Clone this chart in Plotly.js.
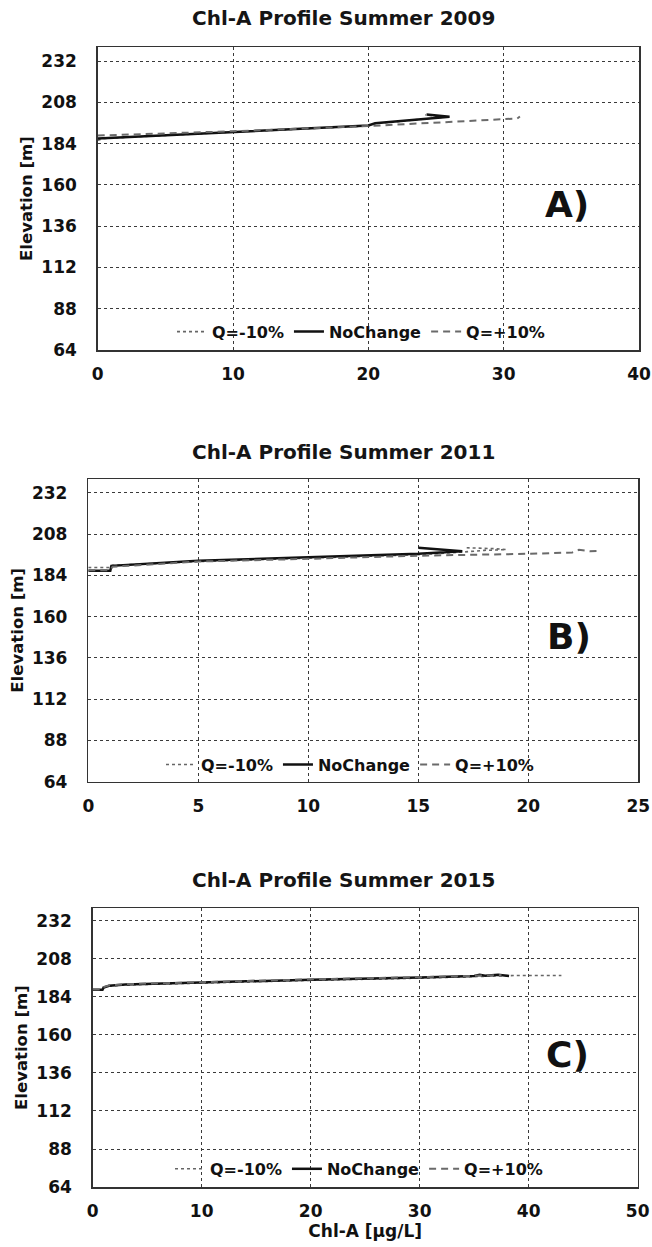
<!DOCTYPE html>
<html>
<head>
<meta charset="utf-8">
<script src="https://cdn.plot.ly/plotly-3.0.1.min.js"></script>
<style>html,body{margin:0;padding:0;background:#fff;}#chart{width:652px;height:1247px;}</style>
</head>
<body>
<div id="chart"></div>
<script>
// ---- Data ----
const seriesNames = ['Q=-10%', 'NoChange', 'Q=+10%'];
const panelTitles = ['Chl-A Profile Summer 2009', 'Chl-A Profile Summer 2011', 'Chl-A Profile Summer 2015'];
const panelLabels = ['A)', 'B)', 'C)'];
const elevTicks = [64, 88, 112, 136, 160, 184, 208, 232];

// Panel A (2009)  (below the first point the profile sits on Chl-A = 0, i.e. on the left frame)
const chlA_m10 = [0, 0.5, 10, 20, 20.5, 25.6, 24.2];
const elevA_m10 = [186, 187, 190.7, 194.3, 195.6, 199.4, 200.7];
const chlA_nc = [0, 10, 20, 20.5, 26, 24.3];
const elevA_nc = [187, 190.9, 194.5, 195.8, 199.6, 200.9];
const chlA_p10 = [0, 10, 20, 23.3, 30, 31, 31.2];
const elevA_p10 = [188.7, 191.2, 194.2, 195.5, 198, 198.6, 199.8];

// Panel B (2011)
const chlB_m10 = [0, 1, 1.1, 5, 10, 15, 17, 18, 19, 18.5, 17.2];
const elevB_m10 = [188.5, 188.5, 189.8, 192, 194, 196, 197.5, 198.5, 199, 199.5, 200];
const chlB_nc = [0, 1, 1.05, 5, 10, 15, 17, 15];
const elevB_nc = [186.6, 186.6, 189.5, 192.5, 194.5, 196.5, 198, 200];
const chlB_p10 = [0, 1, 1.1, 5, 10, 15, 20, 22, 22.3, 22.8, 23.1];
const elevB_p10 = [187, 187, 189, 192, 193.6, 195.4, 196.5, 197.3, 198.8, 198, 198.2];

// Panel C (2015)
const chlC_m10 = [0, 0.9, 1.0, 1.5, 3, 10, 20, 30, 35, 38, 38.8, 43];
const elevC_m10 = [188.3, 188.3, 189.8, 190.8, 191.6, 192.9, 194.5, 195.9, 196.8, 197.2, 197.6, 197.6];
const chlC_nc = [0, 0.9, 1.0, 1.5, 3, 10, 20, 30, 35, 35.5, 36, 37.2, 38.2];
const elevC_nc = [188.6, 188.6, 190, 191.1, 191.9, 193.2, 194.9, 196.3, 197.3, 198, 197.4, 198, 197.2];
const chlC_p10 = [0, 0.9, 1.0, 1.5, 3, 10, 20, 30, 35, 37.5];
const elevC_p10 = [188.8, 188.8, 190.2, 191.3, 192.1, 193.4, 195.1, 196.5, 197.4, 197.8];

// ---- Styles ----
const FONT = 'DejaVu Sans, Arial, sans-serif';
const lineStyles = [
  {color: '#666666', width: 1.6, dash: 'dot'},
  {color: '#111111', width: 2.5, dash: 'solid'},
  {color: '#6a6a6a', width: 2, dash: '7px,5px'}
];

const panels = [
  {x: [chlA_m10, chlA_nc, chlA_p10], y: [elevA_m10, elevA_nc, elevA_p10]},
  {x: [chlB_m10, chlB_nc, chlB_p10], y: [elevB_m10, elevB_nc, elevB_p10]},
  {x: [chlC_m10, chlC_nc, chlC_p10], y: [elevC_m10, elevC_nc, elevC_p10]}
];

const traces = [];
panels.forEach((p, i) => {
  const sfx = i === 0 ? '' : String(i + 1);
  for (let s = 0; s < 3; s++) {
    traces.push({
      type: 'scatter', mode: 'lines',
      x: p.x[s], y: p.y[s], name: seriesNames[s],
      xaxis: 'x' + sfx, yaxis: 'y' + sfx,
      legend: 'legend' + sfx,
      line: lineStyles[s],
      hoverinfo: 'skip'
    });
  }
});

const W = 652, H = 1247;
const geom = [
  {l: 97.7, r: 639, t: 47.3, b: 350, xmax: 40, dtick: 10, legX: 172, legY: 331.7, titleY: 18.3, lab: [34.7, 148.5]},
  {l: 88.3, r: 638.3, t: 479, b: 781.7, xmax: 25, dtick: 5, legX: 161, legY: 764.6, titleY: 451.7, lab: [21.85, 148.7]},
  {l: 92.7, r: 637.7, t: 908.3, b: 1187, xmax: 50, dtick: 10, legX: 170, legY: 1168.9, titleY: 880, lab: [43.6, 147.4]}
];

const tickFont = {family: FONT, size: 17, color: '#111', weight: 'bold'};
const layout = {
  width: W, height: H,
  margin: {l: 0, r: 0, t: 0, b: 0},
  paper_bgcolor: '#ffffff', plot_bgcolor: '#ffffff',
  showlegend: true,
  annotations: []
};

geom.forEach((g, i) => {
  const sfx = i === 0 ? '' : String(i + 1);
  const xa = {
    domain: [g.l / W, g.r / W], anchor: 'y' + sfx,
    range: [0, g.xmax], tick0: 0, dtick: g.dtick,
    showgrid: true, gridcolor: '#3a3a3a', gridwidth: 1, griddash: '3px,3px',
    zeroline: false, showline: true, linecolor: '#333', linewidth: 1.5, mirror: true,
    ticks: '', ticklabelstandoff: 8, tickfont: tickFont, fixedrange: true
  };
  if (i === 2) {
    xa.title = {text: 'Chl-A [μg/L]', font: {family: FONT, size: 17, color: '#111', weight: 'bold'}, standoff: 4};
  }
  const ya = {
    domain: [1 - g.b / H, 1 - g.t / H], anchor: 'x' + sfx,
    range: [64, 240], tickvals: elevTicks,
    showgrid: true, gridcolor: '#3a3a3a', gridwidth: 1, griddash: '3px,3px',
    zeroline: false, showline: true, linecolor: '#333', linewidth: 1.5, mirror: true,
    ticks: '', ticklabelstandoff: 16, tickfont: tickFont, fixedrange: true,
    title: {text: 'Elevation [m]', font: {family: FONT, size: 16.5, color: '#111', weight: 'bold'}, standoff: 4}
  };
  layout['xaxis' + sfx] = xa;
  layout['yaxis' + sfx] = ya;
  layout['legend' + sfx] = {
    orientation: 'h', x: g.legX / W, xanchor: 'left', y: 1 - g.legY / H, yanchor: 'middle',
    bgcolor: 'rgba(0,0,0,0)', borderwidth: 0, itemwidth: 30,
    font: {family: FONT, size: 16, color: '#111', weight: 'bold'}
  };
  layout.annotations.push({
    text: panelTitles[i], xref: 'paper', yref: 'paper', x: 343 / W, y: 1 - g.titleY / H,
    xanchor: 'center', yanchor: 'middle', showarrow: false,
    font: {family: FONT, size: 20, color: '#151515', weight: 'bold'}
  });
  layout.annotations.push({
    text: panelLabels[i], xref: 'x' + sfx, yref: 'y' + sfx, x: g.lab[0], y: g.lab[1],
    xanchor: 'center', yanchor: 'middle', showarrow: false,
    font: {family: FONT, size: 36, color: '#111', weight: 'bold'}
  });
});

Plotly.newPlot('chart', traces, layout, {staticPlot: true, displayModeBar: false});
</script>
</body>
</html>
